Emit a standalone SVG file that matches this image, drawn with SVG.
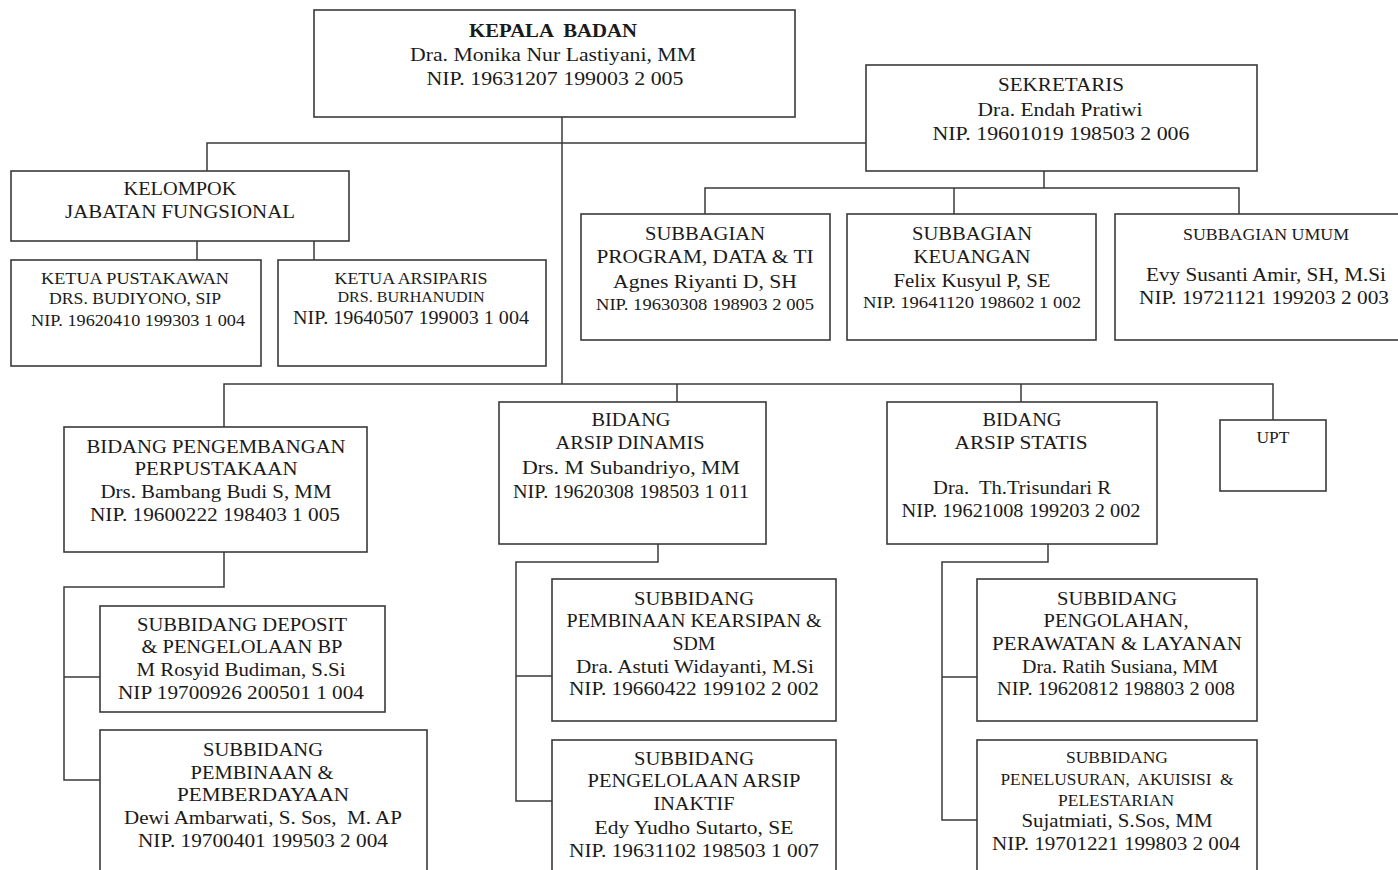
<svg xmlns="http://www.w3.org/2000/svg" width="1398" height="870" viewBox="0 0 1398 870">
<style>
rect{fill:#fff;stroke:#3a3a3a;stroke-width:1.6}
#connectors path{fill:none;stroke:#3a3a3a;stroke-width:1.5}
text{font-family:"Liberation Serif","Times New Roman",serif;font-size:19px;fill:#1a1a1a;text-anchor:middle;white-space:pre}
.b{font-weight:bold}
.s{font-size:17px}
.xs{font-size:15px}
</style>
<rect x="0" y="0" width="1398" height="870" style="stroke:none"/>
<g id="connectors">
<path d="M562 117V384"/>
<path d="M207 171V143H866"/>
<path d="M1044 171V188M705 214V188H1239V214M954 188V214"/>
<path d="M197 241V260M314 241V260"/>
<path d="M224 427V384H1273V420M677 384V402M1021 384V402"/>
<path d="M224 552V587H64V780H100M64 677H100"/>
<path d="M658 544V562H516V801H552M516 676H552"/>
<path d="M1048 544V562H942V820H977M942 677H977"/>
</g>
<g id="kepala">
<rect x="314" y="10" width="481" height="107"/>
<text class="b" x="553" y="37" textLength="168" lengthAdjust="spacingAndGlyphs">KEPALA  BADAN</text>
<text x="553" y="61" textLength="286" lengthAdjust="spacingAndGlyphs">Dra. Monika Nur Lastiyani, MM</text>
<text x="555" y="85" textLength="257" lengthAdjust="spacingAndGlyphs">NIP. 19631207 199003 2 005</text>
</g>
<g id="sekretaris">
<rect x="866" y="65" width="391" height="106"/>
<text x="1061" y="91" textLength="126" lengthAdjust="spacingAndGlyphs">SEKRETARIS</text>
<text x="1060" y="116" textLength="165" lengthAdjust="spacingAndGlyphs">Dra. Endah Pratiwi</text>
<text x="1061" y="140" textLength="257" lengthAdjust="spacingAndGlyphs">NIP. 19601019 198503 2 006</text>
</g>
<g id="kelompok">
<rect x="11" y="171" width="338" height="70"/>
<text x="180" y="195" textLength="113" lengthAdjust="spacingAndGlyphs">KELOMPOK</text>
<text x="180" y="218" textLength="230" lengthAdjust="spacingAndGlyphs">JABATAN FUNGSIONAL</text>
</g>
<g id="ketua-pustakawan">
<rect x="11" y="260" width="250" height="106"/>
<text class="s" x="135" y="284" textLength="188" lengthAdjust="spacingAndGlyphs">KETUA PUSTAKAWAN</text>
<text class="s" x="135" y="304" textLength="172" lengthAdjust="spacingAndGlyphs">DRS. BUDIYONO, SIP</text>
<text class="s" x="138" y="326" textLength="214" lengthAdjust="spacingAndGlyphs">NIP. 19620410 199303 1 004</text>
</g>
<g id="ketua-arsiparis">
<rect x="278" y="260" width="268" height="106"/>
<text class="s" x="411" y="284" textLength="153" lengthAdjust="spacingAndGlyphs">KETUA ARSIPARIS</text>
<text class="xs" x="411" y="302" textLength="147" lengthAdjust="spacingAndGlyphs">DRS. BURHANUDIN</text>
<text x="411" y="324" textLength="236" lengthAdjust="spacingAndGlyphs">NIP. 19640507 199003 1 004</text>
</g>
<g id="subbagian-program">
<rect x="581" y="214" width="249" height="126"/>
<text x="705" y="240" textLength="120" lengthAdjust="spacingAndGlyphs">SUBBAGIAN</text>
<text x="705" y="263" textLength="217" lengthAdjust="spacingAndGlyphs">PROGRAM, DATA &amp; TI</text>
<text x="705" y="288" textLength="184" lengthAdjust="spacingAndGlyphs">Agnes Riyanti D, SH</text>
<text class="s" x="705" y="310" textLength="218" lengthAdjust="spacingAndGlyphs">NIP. 19630308 198903 2 005</text>
</g>
<g id="subbagian-keuangan">
<rect x="847" y="214" width="249" height="126"/>
<text x="972" y="240" textLength="120" lengthAdjust="spacingAndGlyphs">SUBBAGIAN</text>
<text x="972" y="263" textLength="117" lengthAdjust="spacingAndGlyphs">KEUANGAN</text>
<text x="972" y="287" textLength="157" lengthAdjust="spacingAndGlyphs">Felix Kusyul P, SE</text>
<text class="s" x="972" y="308" textLength="218" lengthAdjust="spacingAndGlyphs">NIP. 19641120 198602 1 002</text>
</g>
<g id="subbagian-umum">
<rect x="1115" y="214" width="290" height="126"/>
<text class="s" x="1266" y="240" textLength="166" lengthAdjust="spacingAndGlyphs">SUBBAGIAN UMUM</text>
<text x="1266" y="281" textLength="240" lengthAdjust="spacingAndGlyphs">Evy Susanti Amir, SH, M.Si</text>
<text x="1264" y="304" textLength="250" lengthAdjust="spacingAndGlyphs">NIP. 19721121 199203 2 003</text>
</g>
<g id="bidang-pengembangan">
<rect x="64" y="427" width="303" height="125"/>
<text x="216" y="453" textLength="259" lengthAdjust="spacingAndGlyphs">BIDANG PENGEMBANGAN</text>
<text x="216" y="475" textLength="163" lengthAdjust="spacingAndGlyphs">PERPUSTAKAAN</text>
<text x="216" y="498" textLength="231" lengthAdjust="spacingAndGlyphs">Drs. Bambang Budi S, MM</text>
<text x="215" y="521" textLength="250" lengthAdjust="spacingAndGlyphs">NIP. 19600222 198403 1 005</text>
</g>
<g id="subbidang-deposit">
<rect x="100" y="606" width="285" height="106"/>
<text x="242" y="631" textLength="210" lengthAdjust="spacingAndGlyphs">SUBBIDANG DEPOSIT</text>
<text x="242" y="653" textLength="201" lengthAdjust="spacingAndGlyphs">&amp; PENGELOLAAN BP</text>
<text x="241" y="676" textLength="209" lengthAdjust="spacingAndGlyphs">M Rosyid Budiman, S.Si</text>
<text x="241" y="699" textLength="246" lengthAdjust="spacingAndGlyphs">NIP 19700926 200501 1 004</text>
</g>
<g id="subbidang-pembinaan">
<rect x="100" y="730" width="327" height="150"/>
<text x="263" y="756" textLength="120" lengthAdjust="spacingAndGlyphs">SUBBIDANG</text>
<text x="262" y="779" textLength="143" lengthAdjust="spacingAndGlyphs">PEMBINAAN &amp;</text>
<text x="263" y="801" textLength="172" lengthAdjust="spacingAndGlyphs">PEMBERDAYAAN</text>
<text x="263" y="824" textLength="278" lengthAdjust="spacingAndGlyphs">Dewi Ambarwati, S. Sos,  M. AP</text>
<text x="263" y="847" textLength="250" lengthAdjust="spacingAndGlyphs">NIP. 19700401 199503 2 004</text>
</g>
<g id="bidang-arsip-dinamis">
<rect x="499" y="402" width="267" height="142"/>
<text x="631" y="426" textLength="79" lengthAdjust="spacingAndGlyphs">BIDANG</text>
<text x="630" y="449" textLength="149" lengthAdjust="spacingAndGlyphs">ARSIP DINAMIS</text>
<text x="631" y="474" textLength="218" lengthAdjust="spacingAndGlyphs">Drs. M Subandriyo, MM</text>
<text x="631" y="498" textLength="236" lengthAdjust="spacingAndGlyphs">NIP. 19620308 198503 1 011</text>
</g>
<g id="subbidang-kearsipan">
<rect x="552" y="579" width="284" height="142"/>
<text x="694" y="605" textLength="120" lengthAdjust="spacingAndGlyphs">SUBBIDANG</text>
<text x="694" y="627" textLength="255" lengthAdjust="spacingAndGlyphs">PEMBINAAN KEARSIPAN &amp;</text>
<text x="694" y="650" textLength="43" lengthAdjust="spacingAndGlyphs">SDM</text>
<text x="695" y="673" textLength="238" lengthAdjust="spacingAndGlyphs">Dra. Astuti Widayanti, M.Si</text>
<text x="694" y="695" textLength="250" lengthAdjust="spacingAndGlyphs">NIP. 19660422 199102 2 002</text>
</g>
<g id="subbidang-arsip-inaktif">
<rect x="552" y="740" width="284" height="140"/>
<text x="694" y="765" textLength="120" lengthAdjust="spacingAndGlyphs">SUBBIDANG</text>
<text x="694" y="787" textLength="213" lengthAdjust="spacingAndGlyphs">PENGELOLAAN ARSIP</text>
<text x="694" y="810" textLength="81" lengthAdjust="spacingAndGlyphs">INAKTIF</text>
<text x="694" y="834" textLength="199" lengthAdjust="spacingAndGlyphs">Edy Yudho Sutarto, SE</text>
<text x="694" y="857" textLength="250" lengthAdjust="spacingAndGlyphs">NIP. 19631102 198503 1 007</text>
</g>
<g id="bidang-arsip-statis">
<rect x="887" y="402" width="270" height="142"/>
<text x="1022" y="426" textLength="79" lengthAdjust="spacingAndGlyphs">BIDANG</text>
<text x="1021" y="449" textLength="133" lengthAdjust="spacingAndGlyphs">ARSIP STATIS</text>
<text x="1022" y="494" textLength="178" lengthAdjust="spacingAndGlyphs">Dra.  Th.Trisundari R</text>
<text x="1021" y="517" textLength="239" lengthAdjust="spacingAndGlyphs">NIP. 19621008 199203 2 002</text>
</g>
<g id="upt">
<rect x="1220" y="420" width="106" height="71"/>
<text class="s" x="1273" y="443" textLength="33" lengthAdjust="spacingAndGlyphs">UPT</text>
</g>
<g id="subbidang-pengolahan">
<rect x="977" y="579" width="280" height="142"/>
<text x="1117" y="605" textLength="120" lengthAdjust="spacingAndGlyphs">SUBBIDANG</text>
<text x="1116" y="627" textLength="145" lengthAdjust="spacingAndGlyphs">PENGOLAHAN,</text>
<text x="1117" y="650" textLength="250" lengthAdjust="spacingAndGlyphs">PERAWATAN &amp; LAYANAN</text>
<text x="1120" y="673" textLength="196" lengthAdjust="spacingAndGlyphs">Dra. Ratih Susiana, MM</text>
<text x="1116" y="695" textLength="238" lengthAdjust="spacingAndGlyphs">NIP. 19620812 198803 2 008</text>
</g>
<g id="subbidang-penelusuran">
<rect x="977" y="740" width="280" height="140"/>
<text class="s" x="1117" y="763" textLength="102" lengthAdjust="spacingAndGlyphs">SUBBIDANG</text>
<text class="s" x="1117" y="785" textLength="233" lengthAdjust="spacingAndGlyphs">PENELUSURAN,  AKUISISI  &amp;</text>
<text class="s" x="1116" y="806" textLength="116" lengthAdjust="spacingAndGlyphs">PELESTARIAN</text>
<text x="1117" y="827" textLength="191" lengthAdjust="spacingAndGlyphs">Sujatmiati, S.Sos, MM</text>
<text x="1116" y="850" textLength="248" lengthAdjust="spacingAndGlyphs">NIP. 19701221 199803 2 004</text>
</g>
</svg>
